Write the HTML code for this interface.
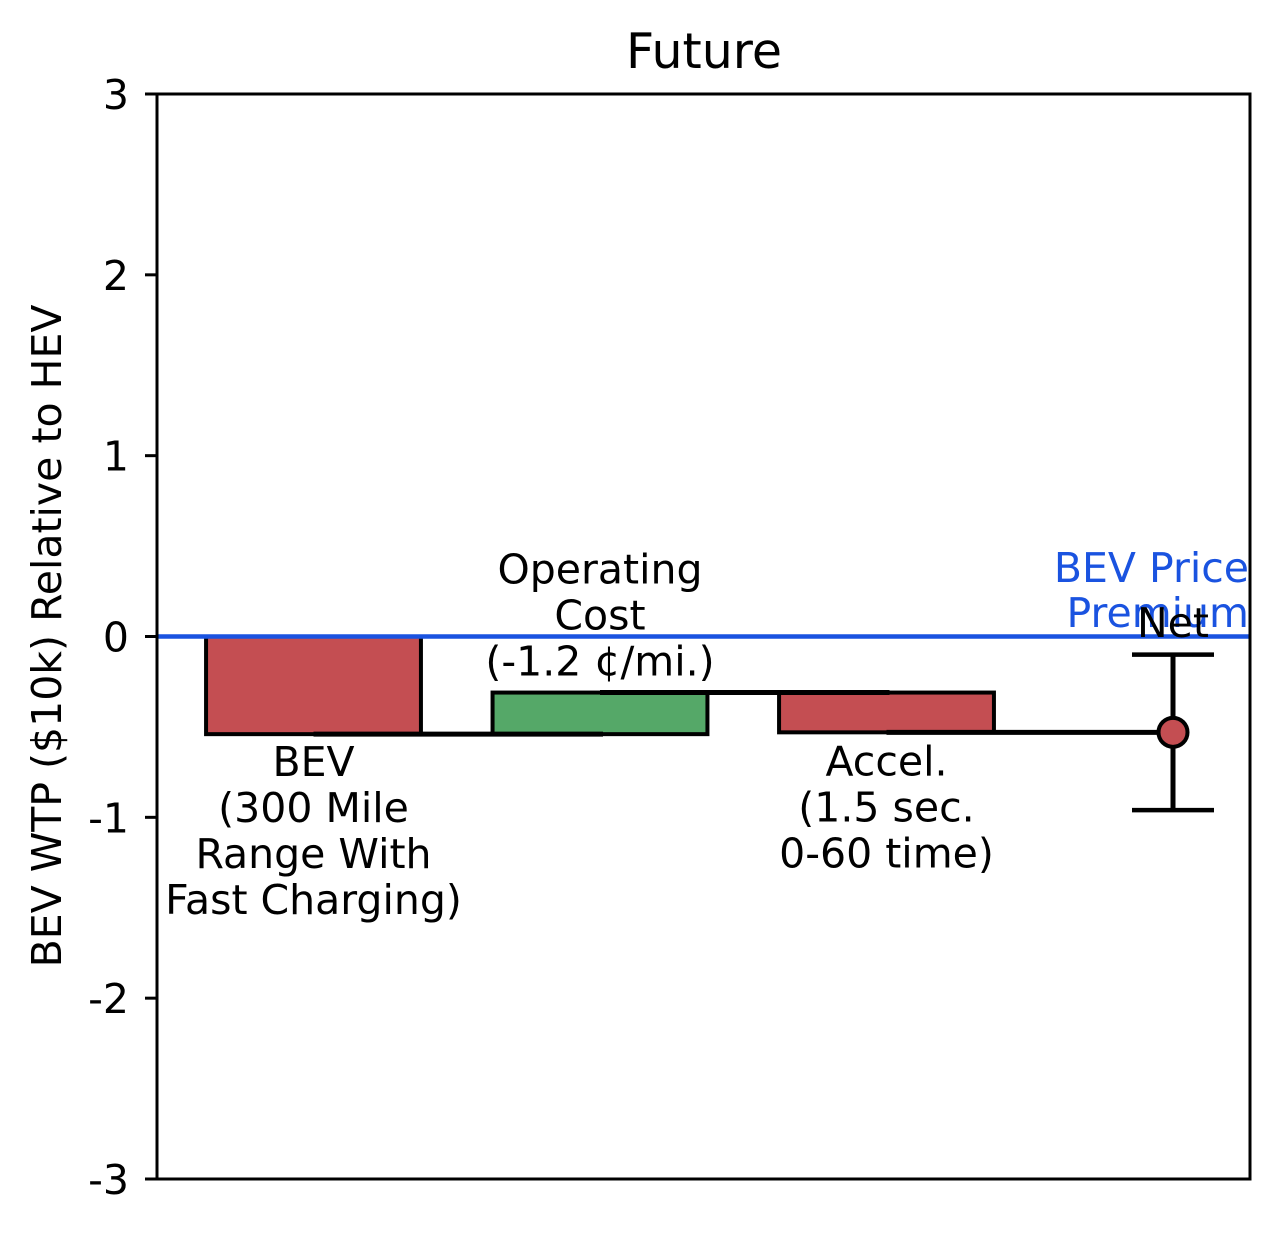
<!DOCTYPE html>
<html><head><meta charset="utf-8"><style>
body{margin:0;background:#fff}
svg text{font-family:"DejaVu Sans","Liberation Sans",sans-serif;}
</style></head><body>
<svg id="c" width="1280" height="1233" xmlns="http://www.w3.org/2000/svg"></svg>
<script>
const categories = [["BEV","(300 Mile","Range With","Fast Charging)"],["Operating","Cost","(-1.2 ¢/mi.)"],["Accel.","(1.5 sec.","0-60 time)"]];
const deltas = [-0.54, 0.23, -0.22];
const netValue = -0.53;
const netLow = -0.96;
const netHigh = -0.10;
const yTicks = [3,2,1,0,-1,-2,-3];
const barColors = ["#c44e52","#55a868","#c44e52"];

const svg=document.getElementById('c');
const NS="http://www.w3.org/2000/svg";
const L=157,R=1250,T=94,B=1179;
const FS=41;
const y=v=>T+(3-v)/6*(B-T);
const step=286.5, x0=313.5;
const x=i=>x0+i*step;
const bw=0.75*step;
function el(t,a,name,txt){const e=document.createElementNS(NS,t);for(const k in a)e.setAttribute(k,a[k]);


if(txt!==undefined)e.textContent=txt;svg.appendChild(e);return e;}

let cum=0;
deltas.forEach((d,i)=>{
  const s=cum,e=cum+d;
  el('rect',{x:x(i)-bw/2,y:y(Math.max(s,e)),width:bw,height:Math.abs(y(e)-y(s)),fill:barColors[i],stroke:'#000','stroke-width':4},'bar-'+i);
  cum=e;
});
cum=0;
deltas.forEach((d,i)=>{
  cum+=d;
  el('line',{x1:x(i),x2:x(i+1)+3,y1:y(cum),y2:y(cum),stroke:'#000','stroke-width':5},'connector-'+i);
});
el('line',{x1:L,x2:R,y1:y(0),y2:y(0),stroke:'#1a53e0','stroke-width':4.5},'zero-line');
const lh=46;
categories[0].forEach((t,j)=>el('text',{x:x(0),y:y(deltas[0])+42+j*lh,'text-anchor':'middle','font-size':FS},'label-bev',t));
{let top=y(deltas[0]+deltas[1]);categories[1].forEach((t,j)=>el('text',{x:x(1),y:top-17-(2-j)*lh,'text-anchor':'middle','font-size':FS},'label-operating',t));}
categories[2].forEach((t,j)=>el('text',{x:x(2),y:y(deltas[0]+deltas[1])+83+j*lh,'text-anchor':'middle','font-size':FS},'label-accel',t));
el('line',{x1:x(3),x2:x(3),y1:y(netHigh),y2:y(netLow),stroke:'#000','stroke-width':5},'net-errorbar');
el('line',{x1:x(3)-41,x2:x(3)+41,y1:y(netHigh),y2:y(netHigh),stroke:'#000','stroke-width':4.5},'net-cap-high');
el('line',{x1:x(3)-41,x2:x(3)+41,y1:y(netLow),y2:y(netLow),stroke:'#000','stroke-width':4.5},'net-cap-low');
el('circle',{cx:x(3),cy:y(netValue),r:14.5,fill:'#c44e52',stroke:'#000','stroke-width':4},'net-point');
el('text',{x:1249,y:582,'text-anchor':'end','font-size':FS,fill:'#1a53e0'},'price-premium-label','BEV Price');
el('text',{x:1249,y:627,'text-anchor':'end','font-size':FS,fill:'#1a53e0'},'price-premium-label','Premium');
el('text',{x:x(3),y:637,'text-anchor':'middle','font-size':FS},'net-label','Net');
el('rect',{x:L,y:T,width:R-L,height:B-T,fill:'none',stroke:'#000','stroke-width':3},'plot-frame');
yTicks.forEach(v=>{
  el('line',{x1:L-12,x2:L,y1:y(v),y2:y(v),stroke:'#000','stroke-width':3},'y-tick');
  el('text',{x:L-28,y:y(v)+15,'text-anchor':'end','font-size':FS},'y-tick-label',String(v));
});
el('text',{x:704,y:68,'text-anchor':'middle','font-size':49},'chart-title','Future');
el('text',{x:0,y:0,'text-anchor':'middle','font-size':FS,transform:'translate(61,636) rotate(-90)'},'y-axis-title','BEV WTP ($10k) Relative to HEV');
</script>
</body></html>
